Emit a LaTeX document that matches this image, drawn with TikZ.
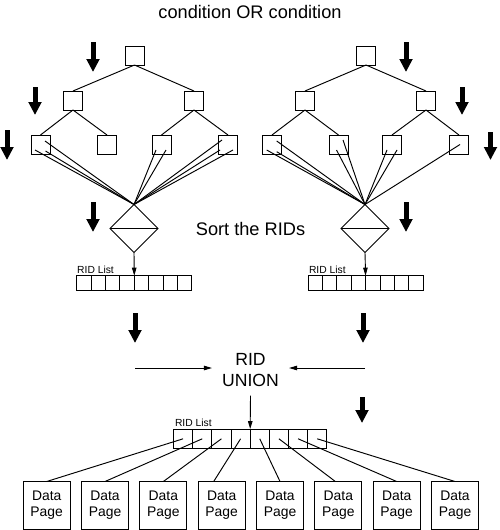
\documentclass[tikz,border=0pt]{standalone}
\usepackage{fontspec}
\setmainfont{Liberation Sans}
\usetikzlibrary{arrows.meta,shapes.geometric}
\begin{document}
\begin{tikzpicture}[x=1pt,y=-1pt,
  box/.style={draw, line width=1pt, minimum width=19pt, minimum height=19pt, inner sep=0pt, outer sep=0pt},
  cell/.style={draw, line width=0.9pt, minimum width=14.4pt, minimum height=14.4pt, inner sep=0pt, outer sep=0pt},
  bcell/.style={draw, line width=0.9pt, minimum width=19.17pt, minimum height=19.5pt, inner sep=0pt, outer sep=0pt},
  page/.style={draw, line width=1pt, minimum width=47pt, minimum height=47.5pt, inner sep=0pt, outer sep=0pt, align=center, font=\fontsize{13.9}{16}\selectfont},
  sorter/.style={draw, diamond, aspect=1, minimum width=48pt, minimum height=48pt, inner sep=0pt, outer sep=0pt, line width=1pt},
  edge/.style={line width=0.95pt},
  fat/.style={line width=5pt, -{Triangle[length=13pt,width=12.5pt]}},
  thin/.style={line width=0.9pt, -{Triangle[length=8pt,width=4.5pt]}},
  big/.style={font=\fontsize{18.2}{21.7}\selectfont},
  small/.style={font=\fontsize{10.3}{12}\selectfont, inner sep=0pt, outer sep=0pt, anchor=south west},
]
\useasboundingbox (0,0) rectangle (500,530);

% title and captions
\node[big] (title) at (250,11.5) {condition OR condition};
\node[big] (sort) at (250.5,229) {Sort the RIDs};

% left tree
\node[box] (L1)  at (134.5,55.5) {};
\node[box] (L21) at (73,100.5) {};
\node[box] (L22) at (194,100.5) {};
\node[box] (L31) at (40.5,144.5) {};
\node[box] (L32) at (107,144.5) {};
\node[box] (L33) at (161.5,144.5) {};
\node[box] (L34) at (228,144.5) {};
\draw[edge] (L1.south) -- (L21.north);
\draw[edge] (L1.south) -- (L22.north);
\draw[edge] (L21.south) -- (L31.north);
\draw[edge] (L21.south) -- (L32.north);
\draw[edge] (L22.south) -- (L33.north);
\draw[edge] (L22.south) -- (L34.north);

% right tree
\node[box] (R1)  at (366,55.5) {};
\node[box] (R21) at (305,100.5) {};
\node[box] (R22) at (426,100.5) {};
\node[box] (R31) at (272,144.5) {};
\node[box] (R32) at (338.5,144.5) {};
\node[box] (R33) at (392,144.5) {};
\node[box] (R34) at (459,144.5) {};
\draw[edge] (R1.south) -- (R21.north);
\draw[edge] (R1.south) -- (R22.north);
\draw[edge] (R21.south) -- (R31.north);
\draw[edge] (R21.south) -- (R32.north);
\draw[edge] (R22.south) -- (R33.north);
\draw[edge] (R22.south) -- (R34.north);

% sorters
\node[sorter] (LD) at (134,228.5) {};
\node[sorter] (RD) at (365,228.5) {};
\draw[edge] (LD.west) -- (LD.east);
\draw[edge] (RD.west) -- (RD.east);

% leaf RIDs to sorters
\foreach \s in {{(-5.5,5.5)},{(4.5,-3.5)},{(5,6.5)}}
  \draw[edge] ([shift=\s]L31.center) -- (LD.north);
\foreach \s in {{(-5.5,5.5)},{(4.5,5.5)}}
  \draw[edge] ([shift=\s]L33.center) -- (LD.north);
\foreach \s in {{(-6,-4.5)},{(-8,5.5)},{(5,5.5)}}
  \draw[edge] ([shift=\s]L34.center) -- (LD.north);
\foreach \s in {{(4.7,-3.5)},{(-5.3,5.5)},{(4.7,7.2)}}
  \draw[edge] ([shift=\s]R31.center) -- (RD.north);
\foreach \s in {{(4.5,-4.5)},{(-2,5.5)}}
  \draw[edge] ([shift=\s]R32.center) -- (RD.north);
\foreach \s in {{(-5,5.5)},{(5,5.5)}}
  \draw[edge] ([shift=\s]R33.center) -- (RD.north);
\draw[edge] ([shift={(1,0)}]R34.center) -- (RD.north);

% RID lists
\foreach \i in {1,...,8} {
  \node[cell] (LL\i) at ({76.7+14.4*(\i-0.5)},282.9) {};
  \node[cell] (RR\i) at ({308+14.4*(\i-0.5)},282.9) {};
  \node[bcell] (BB\i) at ({173.5+19.17*(\i-0.5)},438.8) {};
}
\node[small] (LLl) at ([shift={(0.5,-2.5)}]LL1.north west) {RID List};
\node[small] (RRl) at ([shift={(1,-2.5)}]RR1.north west) {RID List};
\node[small] (BBl) at ([shift={(1.5,-2)}]BB1.north west) {RID List};
\draw[thin] (LD.south) -- (LL4.north east);
\draw[thin] (RD.south) -- (RR4.north east);

% thick flow arrows
\draw[fat] (93,42) -- (93,72);
\draw[fat] (35,87) -- (35,115);
\draw[fat] (7,130) -- (7,160);
\draw[fat] (93,202) -- (93,232);
\draw[fat] (406,42) -- (406,72);
\draw[fat] (462,87) -- (462,115);
\draw[fat] (490.5,132) -- (490.5,160);
\draw[fat] (406,202) -- (406,232);
\draw[fat] (135,313) -- (135,343);
\draw[fat] (363,313) -- (363,343);
\draw[fat] (362,397) -- (362,423);

% RID union
\node[big, align=center, font=\fontsize{17.6}{21.7}\selectfont, inner xsep=10pt, inner ysep=8.5pt] (U) at (250.5,370) {RID\\UNION};
\coordinate (ul) at (135,368);
\coordinate (ur) at (365,368);
\draw[thin] (ul) -- (U.west |- ul);
\draw[thin] (ur) -- (U.east |- ur);
\draw[thin] (U.south) -- (BB4.north east);

% data pages
\foreach \i in {1,...,8}
  \node[page] (P\i) at ({46.7+58.33*(\i-1)},505.25) {Data\\Page};
\foreach \i in {1,2,3,5,7,8}
  \draw[edge] (BB\i.center) -- (P\i.north);
\draw[edge] (BB4.center) -- ([xshift=-8pt]P4.north);
\draw[edge] (BB6.center) -- ([xshift=-3pt]P6.north);
\end{tikzpicture}
\end{document}
